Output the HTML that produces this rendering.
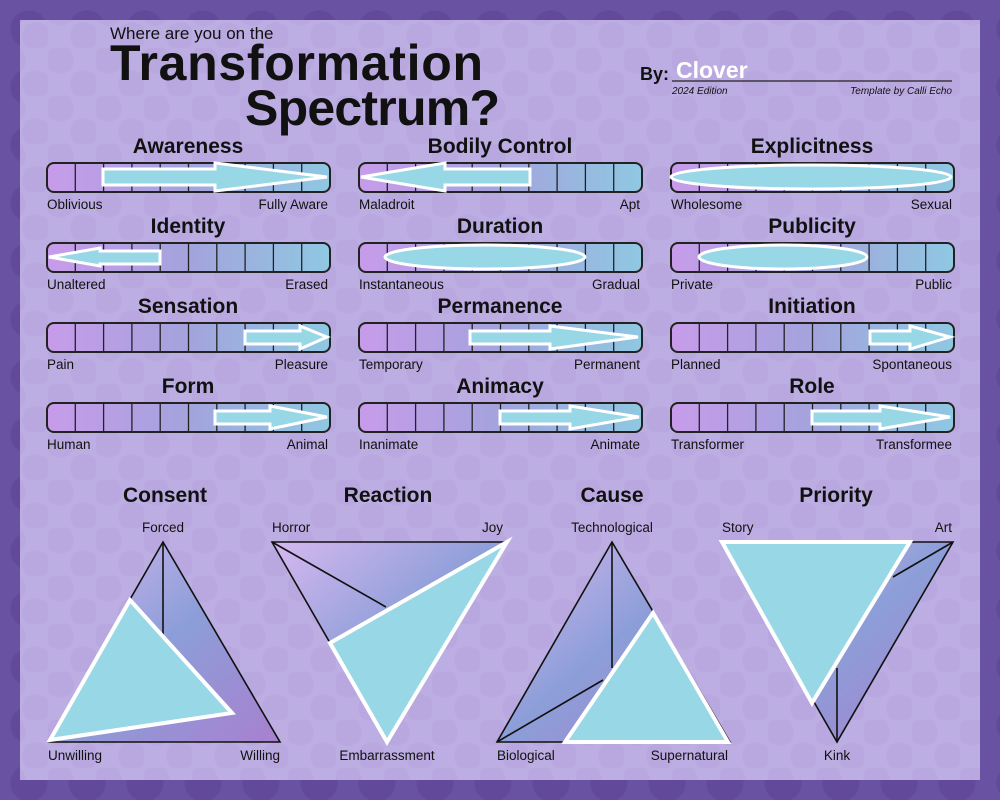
<!DOCTYPE html>
<html><head><meta charset="utf-8"><style>
html,body{margin:0;padding:0}
body{width:1000px;height:800px;overflow:hidden;background:#6a52a2;
background-image:radial-gradient(circle,#62499a 0 18px,transparent 19px);background-size:58px 58px;}
svg{position:absolute;left:0;top:0}
text{font-family:"Liberation Sans",sans-serif;fill:#111}
.t{font-weight:bold;font-size:21px;text-anchor:middle}
.l{font-size:13.5px}
</style></head><body>
<svg width="1000" height="800" viewBox="0 0 1000 800">
<defs>
<pattern id="dots" width="48" height="48" patternUnits="userSpaceOnUse">
<rect width="48" height="48" fill="#bcaee2"/>
<circle cx="12" cy="12" r="14" fill="#b8a8df"/>
<circle cx="36" cy="36" r="14" fill="#b8a8df"/>
</pattern>
<linearGradient id="bar" x1="0" x2="1" y1="0" y2="0">
<stop offset="0" stop-color="#c79cea"/><stop offset="0.5" stop-color="#a3a3dc"/><stop offset="1" stop-color="#8fc8e2"/>
</linearGradient>
<linearGradient id="tri" x1="0" x2="1" y1="0" y2="1">
<stop offset="0" stop-color="#d7b8f0"/><stop offset="0.5" stop-color="#8c9ed8"/><stop offset="1" stop-color="#a880d0"/>
</linearGradient>
<g id="ticks" stroke="#222" stroke-width="1.3">
<line x1="28.3" y1="0" x2="28.3" y2="29"/><line x1="56.6" y1="0" x2="56.6" y2="29"/><line x1="84.9" y1="0" x2="84.9" y2="29"/><line x1="113.2" y1="0" x2="113.2" y2="29"/><line x1="141.5" y1="0" x2="141.5" y2="29"/><line x1="169.8" y1="0" x2="169.8" y2="29"/><line x1="198.1" y1="0" x2="198.1" y2="29"/><line x1="226.4" y1="0" x2="226.4" y2="29"/><line x1="254.7" y1="0" x2="254.7" y2="29"/>
</g>
<g id="bar1"><rect x="0" y="0" width="283" height="29" rx="7" fill="url(#bar)" stroke="#222" stroke-width="2"/><use href="#ticks"/></g>
</defs>
<rect x="20" y="20" width="960" height="760" fill="url(#dots)"/>

<text x="110" y="39" style="font-size:17px">Where are you on the</text>
<text x="110" y="80" style="font-size:50px;font-weight:bold" textLength="373">Transformation</text>
<text x="245" y="125" style="font-size:50px;font-weight:bold" textLength="255">Spectrum?</text>
<text x="640" y="80" style="font-size:18px;font-weight:bold">By:</text>
<text x="676" y="78" style="font-size:23px;font-weight:bold;fill:#fff">Clover</text>
<line x1="672" y1="81" x2="952" y2="81" stroke="#222" stroke-width="1.2"/>
<text x="672" y="94" style="font-size:10px;font-style:italic">2024 Edition</text>
<text x="952" y="94" style="font-size:10px;font-style:italic;text-anchor:end">Template by Calli Echo</text>

<g>
<use href="#bar1" x="47" y="163"/><use href="#bar1" x="359" y="163"/><use href="#bar1" x="671" y="163"/>
<use href="#bar1" x="47" y="243"/><use href="#bar1" x="359" y="243"/><use href="#bar1" x="671" y="243"/>
<use href="#bar1" x="47" y="323"/><use href="#bar1" x="359" y="323"/><use href="#bar1" x="671" y="323"/>
<use href="#bar1" x="47" y="403"/><use href="#bar1" x="359" y="403"/><use href="#bar1" x="671" y="403"/>
</g>
<g>
<text class="t" x="188" y="153">Awareness</text><text class="t" x="500" y="153">Bodily Control</text><text class="t" x="812" y="153">Explicitness</text>
<text class="t" x="188" y="233">Identity</text><text class="t" x="500" y="233">Duration</text><text class="t" x="812" y="233">Publicity</text>
<text class="t" x="188" y="313">Sensation</text><text class="t" x="500" y="313">Permanence</text><text class="t" x="812" y="313">Initiation</text>
<text class="t" x="188" y="393">Form</text><text class="t" x="500" y="393">Animacy</text><text class="t" x="812" y="393">Role</text>
</g>
<g>
<text class="l" x="47" y="209">Oblivious</text><text class="l" x="328" y="209" text-anchor="end">Fully Aware</text>
<text class="l" x="359" y="209">Maladroit</text><text class="l" x="640" y="209" text-anchor="end">Apt</text>
<text class="l" x="671" y="209">Wholesome</text><text class="l" x="952" y="209" text-anchor="end">Sexual</text>
<text class="l" x="47" y="289">Unaltered</text><text class="l" x="328" y="289" text-anchor="end">Erased</text>
<text class="l" x="359" y="289">Instantaneous</text><text class="l" x="640" y="289" text-anchor="end">Gradual</text>
<text class="l" x="671" y="289">Private</text><text class="l" x="952" y="289" text-anchor="end">Public</text>
<text class="l" x="47" y="369">Pain</text><text class="l" x="328" y="369" text-anchor="end">Pleasure</text>
<text class="l" x="359" y="369">Temporary</text><text class="l" x="640" y="369" text-anchor="end">Permanent</text>
<text class="l" x="671" y="369">Planned</text><text class="l" x="952" y="369" text-anchor="end">Spontaneous</text>
<text class="l" x="47" y="449">Human</text><text class="l" x="328" y="449" text-anchor="end">Animal</text>
<text class="l" x="359" y="449">Inanimate</text><text class="l" x="640" y="449" text-anchor="end">Animate</text>
<text class="l" x="671" y="449">Transformer</text><text class="l" x="952" y="449" text-anchor="end">Transformee</text>
</g>

<g fill="#98d7e6" stroke="#fff" stroke-width="3" stroke-linejoin="miter">
<polygon points="103,169 215,169 215,163 327,177 215,191 215,185 103,185"/>
<polygon points="530,169 445,169 445,163 361,177 445,191 445,185 530,185"/>
<ellipse cx="811" cy="177" rx="140" ry="12"/>
<polygon points="160,251 100,251 100,248 49,257 100,266 100,264 160,264"/>
<ellipse cx="485" cy="257" rx="100" ry="12"/>
<ellipse cx="783" cy="257" rx="84" ry="12"/>
<polygon points="245,331 300,331 300,326 327,337 300,349 300,344 245,344"/>
<polygon points="470,331 550,331 550,326 638,337 550,349 550,344 470,344"/>
<polygon points="870,331 910,331 910,326 950,337 910,349 910,344 870,344"/>
<polygon points="215,411 270,411 270,406 327,417 270,429 270,424 215,424"/>
<polygon points="500,411 570,411 570,406 639,417 570,429 570,424 500,424"/>
<polygon points="812,411 880,411 880,406 950,417 880,429 880,424 812,424"/>
</g>

<text class="t" x="165" y="502">Consent</text><text class="t" x="388" y="502">Reaction</text><text class="t" x="612" y="502">Cause</text><text class="t" x="836" y="502">Priority</text>
<g>
<text class="l" x="163" y="532" text-anchor="middle">Forced</text>
<text class="l" x="48" y="760">Unwilling</text><text class="l" x="280" y="760" text-anchor="end">Willing</text>
<text class="l" x="272" y="532">Horror</text><text class="l" x="503" y="532" text-anchor="end">Joy</text>
<text class="l" x="387" y="760" text-anchor="middle">Embarrassment</text>
<text class="l" x="612" y="532" text-anchor="middle">Technological</text>
<text class="l" x="497" y="760">Biological</text><text class="l" x="728" y="760" text-anchor="end">Supernatural</text>
<text class="l" x="722" y="532">Story</text><text class="l" x="952" y="532" text-anchor="end">Art</text>
<text class="l" x="837" y="760" text-anchor="middle">Kink</text>
</g>
<g stroke="#111" stroke-width="1.6" fill="url(#tri)">
<polygon points="163,542 48,742 280,742"/>
<polygon points="272,542 507,542 387,742"/>
<polygon points="612,542 497,742 730,742"/>
<polygon points="722,542 953,542 837,742"/>
</g>
<g stroke="#111" stroke-width="1.6">
<line x1="163" y1="542" x2="163" y2="634"/>
<line x1="272" y1="542" x2="386" y2="607"/>
<line x1="612" y1="542" x2="612" y2="668"/><line x1="497" y1="742" x2="603" y2="680"/>
<line x1="953" y1="542" x2="893" y2="577"/><line x1="837" y1="742" x2="837" y2="668"/>
</g>
<g fill="#98d7e6" stroke="#fff" stroke-width="4" stroke-linejoin="miter">
<polygon points="130,600 50,740 232,713"/>
<polygon points="507,542 330,643 387,742"/>
<polygon points="653,613 565,742 728,742"/>
<polygon points="722,542 910,542 812,703"/>
</g>
</svg>
</body></html>
